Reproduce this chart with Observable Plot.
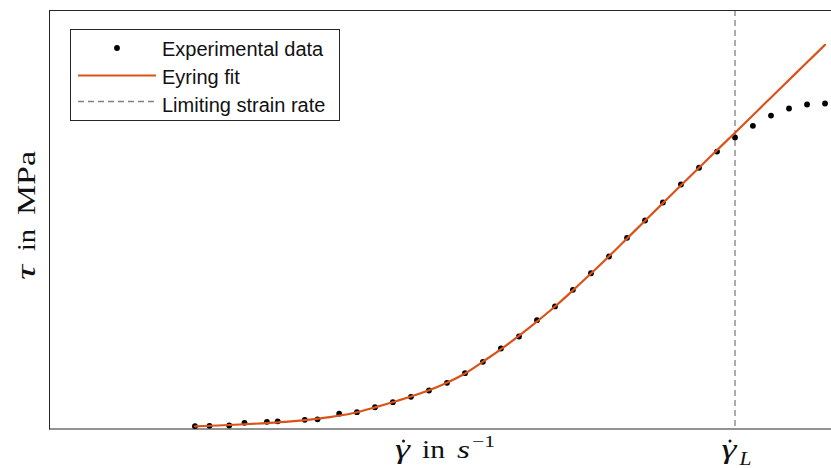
<!DOCTYPE html>
<html>
<head>
<meta charset="utf-8">
<script src="https://cdn.jsdelivr.net/npm/d3@7"></script>
<script src="https://cdn.jsdelivr.net/npm/@observablehq/plot@0.6"></script>
<style>
  html, body { margin: 0; padding: 0; background: #fff; }
  #chart svg { display: block; }
</style>
</head>
<body>
<div id="chart"></div>
<script>
// Experimental data: strain rate (s^-1) and shear stress (MPa)
const rates = [1.0e-5, 1.45e-5, 2.4e-5, 3.55e-5, 6.3e-5, 8.3e-5, 1.66e-4, 2.3e-4, 4.0e-4, 6.3e-4,
  1.0e-3, 1.58e-3, 2.51e-3, 3.98e-3, 6.31e-3, 1.0e-2, 1.58e-2, 2.51e-2, 3.98e-2, 6.31e-2,
  0.1, 0.158, 0.251, 0.398, 0.631, 1, 1.58, 2.51, 3.98, 6.31,
  10, 15.8, 25.1, 39.8, 63.1, 100];
const tauData = [0.34, 0.38, 0.42, 0.74, 0.86, 0.92, 1.10, 1.16, 1.83, 2.01,
  2.60, 3.20, 3.85, 4.60, 5.52, 6.67, 8.03, 9.62, 11.05, 13.00,
  14.64, 16.63, 18.61, 20.61, 22.84, 24.91, 27.06, 29.21, 31.21, 33.15,
  34.83, 36.22, 37.45, 38.29, 38.77, 38.89];

// Eyring fit curve
const fitRates = [1e-5, 1.78e-5, 3.16e-5, 5.62e-5, 1e-4, 1.78e-4, 3.16e-4, 5.62e-4,
  1e-3, 1.78e-3, 3.16e-3, 5.62e-3, 1e-2, 1.78e-2, 3.16e-2, 5.62e-2,
  0.1, 0.178, 0.316, 0.562, 1, 1.78, 3.16, 5.62, 10, 17.8, 31.6, 56.2, 100];
const fitTau = [0.32, 0.42, 0.54, 0.68, 0.86, 1.10, 1.42, 1.88,
  2.59, 3.38, 4.24, 5.29, 6.63, 8.42, 10.33, 12.42,
  14.64, 17.08, 19.59, 22.22, 24.89, 27.54, 30.17, 32.79, 35.40, 38.03, 40.66, 43.28, 45.90];

// Limiting strain rate
const gammaL = 10;

// Legend labels
const legendLabels = ["Experimental data", "Eyring fit", "Limiting strain rate"];

const points = rates.map((r, i) => ({rate: r, tau: tauData[i]}));
const fit = fitRates.map((r, i) => ({rate: r, tau: fitTau[i]}));

const ORANGE = "#D95319";
const FRAME = "#262626";
const GRAY = "#808080";

const chart = Plot.plot({
  width: 831,
  height: 468,
  marginLeft: 49,
  marginRight: 0,
  marginTop: 10,
  marginBottom: 39.5,
  x: {type: "log", domain: [2.42e-7, 118], axis: null},
  y: {domain: [0, 50], axis: null},
  marks: [
    Plot.ruleX([gammaL], {stroke: GRAY, strokeWidth: 1.3, strokeDasharray: "6,4"}),
    Plot.dot(points, {x: "rate", y: "tau", r: 2.9, fill: "black", stroke: "none"}),
    Plot.line(fit, {x: "rate", y: "tau", stroke: ORANGE, strokeWidth: 2.2, curve: "monotone-x"}),
    Plot.frame({anchor: "top", stroke: FRAME}),
    Plot.frame({anchor: "left", stroke: FRAME}),
    Plot.frame({anchor: "bottom", stroke: FRAME})
  ]
});

document.getElementById("chart").appendChild(chart);

const svg = d3.select(chart);
const xs = chart.scale("x");

// Legend
const lg = svg.append("g").attr("text-anchor", "start");
lg.append("rect").attr("x", 70.5).attr("y", 29.5).attr("width", 269).attr("height", 91)
  .attr("fill", "white").attr("stroke", FRAME).attr("stroke-width", 1);
lg.append("circle").attr("cx", 117).attr("cy", 48).attr("r", 2.9).attr("fill", "black");
lg.append("line").attr("x1", 78).attr("x2", 156).attr("y1", 75.5).attr("y2", 75.5)
  .attr("stroke", ORANGE).attr("stroke-width", 2.2);
lg.append("line").attr("x1", 78).attr("x2", 156).attr("y1", 101.5).attr("y2", 101.5)
  .attr("stroke", GRAY).attr("stroke-width", 1.3).attr("stroke-dasharray", "6,4");
const baselines = [56, 84, 112];
legendLabels.forEach((t, i) => {
  lg.append("text").attr("x", 162).attr("y", baselines[i]).text(t)
    .attr("text-anchor", "start")
    .attr("font-family", "Liberation Sans, Arial, sans-serif").attr("font-size", 20)
    .attr("fill", "#111");
});

// Math-style labels
const SERIF = "Liberation Serif, Times New Roman, serif";
function piece(g, txt, x, y, size, italic, len) {
  const t = g.append("text").attr("x", x).attr("y", y).text(txt)
    .attr("text-anchor", "start")
    .attr("font-family", SERIF).attr("font-size", size).attr("fill", "#111")
    .attr("font-style", italic ? "italic" : "normal");
  if (len) t.attr("textLength", len).attr("lengthAdjust", "spacingAndGlyphs");
  return t;
}
// gamma with a dot accent (accent drawn as a small circle)
function gammaDot(g, x, y) {
  piece(g, "\u03B3", x, y, 27, true, 15);
  g.append("circle").attr("cx", x + 8.5).attr("cy", y - 17).attr("r", 1.5).attr("fill", "#111");
}

// x label
const xl = svg.append("g");
gammaDot(xl, 395, 458);
piece(xl, "in", 422, 458, 26, false, 23);
piece(xl, "s", 457, 458, 26, true, 13);
piece(xl, "\u22121", 472, 447, 17, false, 23);

// gamma_L tick label
const gx = xs.apply(gammaL);
const gl = svg.append("g");
gammaDot(gl, gx - 13, 458);
piece(gl, "L", gx + 5, 465, 18, true, 12);

// y label
const yl = svg.append("g").attr("transform", "translate(35,214) rotate(-90)");
piece(yl, "\u03C4", -66, 0, 27, true, 15);
piece(yl, "in", -37, 0, 26, false, 22);
piece(yl, "MPa", -1, 0, 26, false, 64);
</script>
</body>
</html>
